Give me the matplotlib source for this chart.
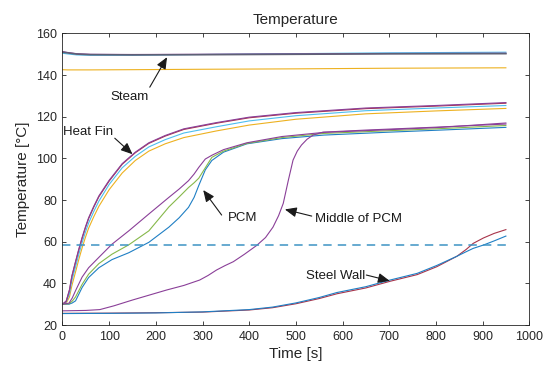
import matplotlib
matplotlib.use("Agg")
import matplotlib.pyplot as plt

plt.rcParams['font.family'] = ['Liberation Sans', 'DejaVu Sans']

# --- data ---
steam_t = [0, 10, 30, 60, 150, 300, 500, 700, 950]
steam_gray = [151.0, 150.7, 150.1, 149.8, 149.7, 149.8, 150.0, 150.2, 150.3]
steam_purple = [151.3, 150.9, 150.3, 150.0, 149.9, 150.0, 150.2, 150.4, 150.5]
steam_blue = [150.5, 150.2, 149.7, 149.5, 149.5, 149.9, 150.3, 150.7, 151.0]
steam_orange = [142.6, 142.5, 142.5, 142.5, 142.6, 142.8, 143.0, 143.3, 143.5]

fin_t = [0, 8, 15, 20, 28, 35, 42, 49, 56, 67, 78, 100, 128, 156, 185, 220, 260, 330, 400, 500, 650, 800, 950]
fin_purple = [30, 31.5, 37, 43.5, 50.5, 56.5, 62, 67, 71.5, 77, 82, 89.5, 97.5, 103, 107.5, 111, 114.2, 117.2, 119.8, 122, 124.2, 125.4, 126.8]
fin_red = [30, 31.4, 36.7, 43.2, 50.2, 56.1, 61.6, 66.6, 71.1, 76.6, 81.6, 89.1, 97.2, 102.7, 107.2, 110.7, 113.9, 116.9, 119.5, 121.7, 123.9, 125.1, 126.5]
fin_teal = [30, 31, 35, 41.2, 48, 54, 59.5, 64.5, 69, 74.5, 79.5, 87.5, 95.5, 101, 105.5, 109, 112.2, 115.2, 118, 120.5, 122.9, 124.2, 125.4]
fin_orange = [30, 30.5, 33.5, 38.8, 45.5, 51.5, 57, 62, 66.5, 72, 77, 85, 93, 99, 103.5, 107, 110, 113.2, 116, 118.8, 121.4, 122.8, 124.0]

pcm_t = [0, 14, 21, 28, 42, 56, 78, 106, 142, 185, 228, 250, 270, 282, 292, 306, 320, 345, 395, 470, 560, 700, 810, 950]
pcm_purple = [30, 30.5, 33, 36.5, 43, 47.5, 52.5, 58.8, 65.2, 73.3, 81.3, 85.3, 89.3, 92.5, 95.7, 99.7, 101.5, 104.2, 107.5, 110.5, 112.5, 113.8, 114.9, 117.0]
pcm_green = [30, 30.2, 31.5, 33.5, 39.5, 44.4, 49.5, 54, 58.5, 65.2, 76.7, 81.5, 86, 88.3, 90.5, 95.5, 100.5, 103.5, 107.2, 110, 112, 113.3, 114.3, 115.8]
pcm_blue = [30, 30, 30.6, 31.6, 38, 42.8, 47.5, 51.4, 54.7, 59.7, 67, 71.5, 76.5, 81.3, 87, 94.5, 99, 103, 107, 109.5, 111.2, 112.6, 113.6, 114.9]

mid_t = [0, 50, 80, 110, 150, 223, 260, 294, 312, 330, 348, 366, 390, 416, 435, 451, 463, 473, 484, 494, 503, 512, 524, 537, 558, 650, 800, 950]
mid_T = [26.8, 27.0, 27.4, 29.2, 32, 36.8, 39, 41.6, 43.8, 46.4, 48.5, 50.4, 54, 58.2, 62, 67, 72.5, 78.4, 89.6, 99.2, 103.5, 106.4, 109.2, 111.2, 112.6, 113.6, 115.0, 116.5]

steel_t = [0, 100, 200, 300, 400, 450, 500, 550, 588, 650, 702, 760, 802, 845, 865, 880, 902, 925, 950]
steel_blue = [25.5, 25.6, 25.8, 26.3, 27.4, 28.6, 30.6, 33.2, 35.6, 38.4, 41.6, 44.8, 48.6, 53.0, 55.2, 56.8, 58.4, 60.4, 62.7]
steel_red = [25.6, 25.7, 25.9, 26.2, 27.2, 28.3, 30.2, 32.7, 35.0, 37.8, 41.0, 44.2, 48.0, 53.0, 56.3, 59.2, 61.8, 64.0, 65.8]

limit_t = [0, 950]
limit_T = [58.4, 58.4]

# MATLAB-like colours
c_blue = '#1f7fc4'
c_orange = '#EDB120'
c_purple = '#8a3f98'
c_green = '#86b84a'
c_teal = '#4DBEEE'
c_red = '#a8344a'
c_gray = '#5f6075'
txt = '#262626'

fig = plt.figure(figsize=(5.53, 3.70), dpi=100)
ax = fig.add_axes([0.113, 0.1216, 0.844, 0.788])

lw = 0.8
# steam
ax.plot(steam_t, steam_blue, color=c_teal, lw=lw)
ax.plot(steam_t, steam_purple, color=c_purple, lw=lw)
ax.plot(steam_t, steam_gray, color=c_gray, lw=lw + 0.4)
ax.plot(steam_t, steam_orange, color=c_orange, lw=lw)
# heat fin
ax.plot(fin_t, fin_orange, color=c_orange, lw=lw)
ax.plot(fin_t, fin_teal, color=c_teal, lw=lw)
ax.plot(fin_t, fin_red, color=c_red, lw=lw)
ax.plot(fin_t, fin_purple, color=c_purple, lw=lw)
# pcm
ax.plot(pcm_t, pcm_blue, color=c_blue, lw=lw)
ax.plot(pcm_t, pcm_green, color=c_green, lw=lw)
ax.plot(pcm_t, pcm_purple, color=c_purple, lw=lw)
# middle of pcm
ax.plot(mid_t, mid_T, color=c_purple, lw=lw)
# steel wall
ax.plot(steel_t, steel_red, color=c_red, lw=lw)
ax.plot(steel_t, steel_blue, color=c_blue, lw=lw)
# dashed reference
ax.plot(limit_t, limit_T, color='#3d93c4', lw=1.1, dashes=(5.5, 4))

ax.set_xlim(0, 1000)
ax.set_ylim(20, 160)
ax.set_xticks(range(0, 1001, 100))
ax.set_yticks(range(20, 161, 20))
ax.tick_params(direction='in', length=3, width=0.6, top=True, right=True,
               labelsize=9, colors=txt, pad=4)
for s in ax.spines.values():
    s.set_color(txt)
    s.set_linewidth(0.6)

ax.set_title('Temperature', fontsize=11, color=txt, pad=7)
ax.set_xlabel('Time [s]', fontsize=11, color=txt, labelpad=3)
ax.set_ylabel('Temperature [°C]', fontsize=11, color=txt, labelpad=4)

# annotations: (label, text pos, arrow tail, arrow tip)
notes = [
    ('Steam', (102, 129.4), (187, 134.2), (224, 148.6)),
    ('Heat Fin', (1, 112.6), (112, 109.7), (150, 102.0)),
    ('PCM', (354, 71.3), (341, 72.8), (301.5, 84.8)),
    ('Middle of PCM', (541, 70.8), (534, 72.3), (476.5, 75.5)),
    ('Steel Wall', (521, 43.5), (651, 44.0), (701, 41.2)),
]
for label, pos, tail, tip in notes:
    ax.text(pos[0], pos[1], label, fontsize=9.5, color='#1a1a1a',
            ha='left', va='center')
    ax.annotate('', xy=tip, xytext=tail,
                arrowprops=dict(arrowstyle='-|>,head_length=0.7,head_width=0.3',
                                color='#1a1a1a', lw=0.8, shrinkA=0, shrinkB=0))

fig.savefig('out.png', dpi=100)
